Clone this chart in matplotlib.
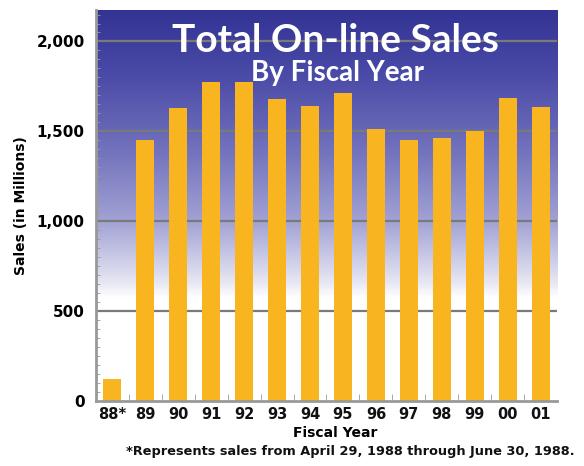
import matplotlib
matplotlib.use("Agg")
import matplotlib.pyplot as plt
import numpy as np
from matplotlib.colors import LinearSegmentedColormap
from matplotlib.ticker import FuncFormatter, MultipleLocator

years = ["88*", "89", "90", "91", "92", "93", "94", "95", "96", "97", "98", "99", "00", "01"]
sales = [122, 1450, 1628, 1772, 1772, 1678, 1639, 1711, 1511, 1450, 1461, 1500, 1683, 1633]
yticks = [0, 500, 1000, 1500, 2000]

plt.rcParams['font.family'] = ['DejaVu Sans']

fig = plt.figure(figsize=(5.84, 4.66), dpi=100)
ax = fig.add_axes([0.164, 0.1395, 0.79, 0.839])

ymax = 2175
x = np.arange(len(years))
ax.set_xlim(-0.5, len(years) - 0.5)
ax.set_ylim(0, ymax)

# gradient background
cmap = LinearSegmentedColormap.from_list(
    "bg", [(0.0, "#ffffff"), (0.265, "#ffffff"), (0.30, "#e8e8f4"), (0.38, "#c4c4e4"),
           (0.46, "#a2a2d4"), (0.65, "#7070bc"), (0.85, "#4848a6"), (1.0, "#333394")])
grad = np.linspace(0, 1, 256).reshape(-1, 1)
ax.imshow(grad, aspect="auto", cmap=cmap, origin="lower",
          extent=(-0.5, len(years) - 0.5, 0, ymax), zorder=0)

for yv in yticks[1:]:
    ax.axhline(yv, color="#7a7a7a", lw=1.6, zorder=1)

ax.bar(x, sales, width=0.55, color="#f8b520", zorder=2, edgecolor="none")

ax.set_xticks(x)
ax.set_xticklabels(years, fontsize=10.5, fontweight="bold", color="#111111")
ax.set_yticks(yticks)
ax.yaxis.set_major_formatter(FuncFormatter(lambda v, p: f"{int(v):,}"))
ax.tick_params(axis="y", labelsize=11, length=0, pad=8)
ax.tick_params(axis="x", length=0, pad=4)
for lab in ax.get_yticklabels():
    lab.set_fontweight("bold")
ax.yaxis.set_minor_locator(MultipleLocator(50))
ax.tick_params(axis="y", which="minor", direction="in", length=3, color="#999999")
ax.set_xticks(x[:-1] + 0.5, minor=True)
ax.tick_params(axis="x", which="minor", direction="in", length=5, color="#999999")

for s in ["top", "right"]:
    ax.spines[s].set_visible(False)
for s in ["left", "bottom"]:
    ax.spines[s].set_color("#999999")
    ax.spines[s].set_linewidth(2)

ax.set_ylabel("Sales (in Millions)", fontsize=10, fontweight="bold", labelpad=6)
ax.set_xlabel("Fiscal Year", fontsize=10, fontweight="bold", labelpad=2)
ax.xaxis.set_label_coords(0.52, -0.065)

ax.text(0.52, 0.922, "Total On-line Sales", transform=ax.transAxes, ha="center", va="center",
        fontsize=28, fontweight="bold", color="white", zorder=3, family="Lato")
ax.text(0.525, 0.838, "By Fiscal Year", transform=ax.transAxes, ha="center", va="center",
        fontsize=20, fontweight="bold", color="white", zorder=3, family="Lato")

fig.text(0.6, 0.032, "*Represents sales from April 29, 1988 through June 30, 1988.",
         ha="center", va="center", fontsize=9.3, fontweight="bold", color="#111111")

fig.savefig("out.png", dpi=100)
